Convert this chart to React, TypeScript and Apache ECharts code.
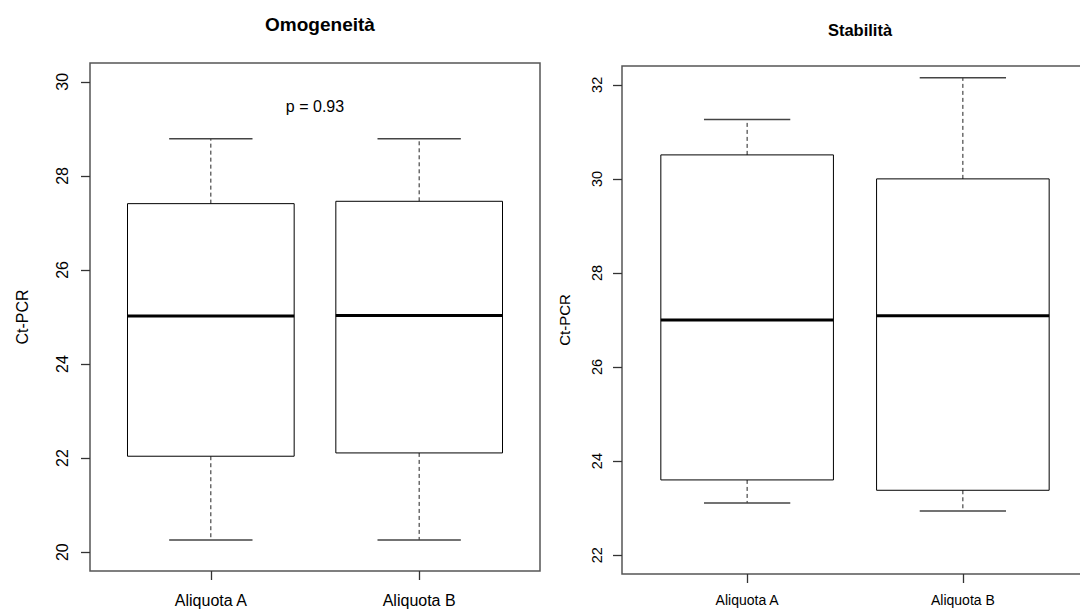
import React, { useEffect, useRef } from "react";
import * as echarts from "echarts";

const categories = ["Aliquota A", "Aliquota B"];
const positions = [1, 2];

// Omogeneità panel: five-number summaries
const omoLower = [20.26, 20.26];
const omoQ1 = [22.04, 22.11];
const omoMedian = [25.02, 25.03];
const omoQ3 = [27.41, 27.46];
const omoUpper = [28.79, 28.79];
const omoTicks = [20, 22, 24, 26, 28, 30];

// Stabilità panel
const staLower = [23.11, 22.94];
const staQ1 = [23.6, 23.38];
const staMedian = [27.0, 27.09];
const staQ3 = [30.51, 30.0];
const staUpper = [31.26, 32.15];
const staTicks = [22, 24, 26, 28, 30, 32];

const pLabel = "p = 0.93";

const FONT = "'Liberation Sans', Arial, sans-serif";

function buildRows(lo: number[], q1: number[], med: number[], q3: number[], hi: number[]) {
  return positions.map((p, i) => [p, lo[i], q1[i], med[i], q3[i], hi[i]]);
}

function renderBox(params: any, api: any) {
  const x = api.value(0);
  const lo = api.value(1);
  const q1 = api.value(2);
  const med = api.value(3);
  const q3 = api.value(4);
  const hi = api.value(5);
  const pLo = api.coord([x, lo]);
  const pQ1 = api.coord([x, q1]);
  const pMed = api.coord([x, med]);
  const pQ3 = api.coord([x, q3]);
  const pHi = api.coord([x, hi]);
  const boxW = api.size([0.8, 0])[0];
  const capW = api.size([0.4, 0])[0];
  const cx = pMed[0];
  const dash = { stroke: "#222", lineWidth: 1, lineDash: [4, 3], fill: null };
  const cap = { stroke: "#444", lineWidth: 1.5 };
  return {
    type: "group",
    children: [
      { type: "line", shape: { x1: cx, y1: pQ3[1], x2: cx, y2: pHi[1] }, style: dash },
      { type: "line", shape: { x1: cx, y1: pQ1[1], x2: cx, y2: pLo[1] }, style: dash },
      { type: "line", shape: { x1: cx - capW / 2, y1: pHi[1], x2: cx + capW / 2, y2: pHi[1] }, style: cap },
      { type: "line", shape: { x1: cx - capW / 2, y1: pLo[1], x2: cx + capW / 2, y2: pLo[1] }, style: cap },
      {
        type: "rect",
        shape: { x: cx - boxW / 2, y: pQ3[1], width: boxW, height: pQ1[1] - pQ3[1] },
        style: { fill: "#fff", stroke: "#000", lineWidth: 1 },
      },
      {
        type: "line",
        shape: { x1: cx - boxW / 2, y1: pMed[1], x2: cx + boxW / 2, y2: pMed[1] },
        style: { stroke: "#000", lineWidth: 3 },
      },
    ],
  };
}

function xAxisCfg(gridIndex: number, fontSize: number, margin: number) {
  return {
    type: "value",
    gridIndex,
    min: 0.42,
    max: 2.58,
    axisLine: { show: false },
    splitLine: { show: false },
    axisTick: { show: true, customValues: positions, length: 9, lineStyle: { color: "#333", width: 1.3 } },
    axisLabel: {
      show: true,
      customValues: positions,
      margin,
      fontSize,
      fontFamily: FONT,
      color: "#000",
      formatter: (v: number) => categories[positions.indexOf(Math.round(v))] ?? "",
    },
  };
}

function yAxisCfg(gridIndex: number, min: number, max: number, ticks: number[], fontSize: number, margin: number, nameGap: number, nameSize: number) {
  return {
    type: "value",
    gridIndex,
    min,
    max,
    name: "Ct-PCR",
    nameLocation: "middle",
    nameGap,
    nameTextStyle: { fontSize: nameSize, fontFamily: FONT, color: "#000" },
    axisLine: { show: false },
    splitLine: { show: false },
    axisTick: { show: true, customValues: ticks, length: 9, lineStyle: { color: "#333", width: 1.3 } },
    axisLabel: {
      show: true,
      customValues: ticks,
      rotate: 90,
      margin,
      fontSize,
      fontFamily: FONT,
      color: "#000",
    },
  };
}

export default function App() {
  const ref = useRef<HTMLDivElement>(null);
  useEffect(() => {
    if (!ref.current) return;
    const chart = echarts.init(ref.current, undefined, { renderer: "svg" });
    chart.setOption({
      animation: false,
      backgroundColor: "#fff",
      title: [
        {
          text: "Omogeneità",
          left: 315,
          top: 10,
          textAlign: "center",
          textStyle: { fontSize: 19, fontWeight: "bold", fontFamily: FONT, color: "#000" },
        },
        {
          text: "Stabilità",
          left: 855,
          top: 16,
          textAlign: "center",
          textStyle: { fontSize: 16.5, fontWeight: "bold", fontFamily: FONT, color: "#000" },
        },
      ],
      grid: [
        { left: 90, top: 63, width: 450, height: 508, show: true, borderColor: "#555", borderWidth: 1.5, backgroundColor: "transparent", outerBoundsMode: "none", containLabel: false },
        { left: 622, top: 66, width: 466, height: 508, show: true, borderColor: "#555", borderWidth: 1.5, backgroundColor: "transparent", outerBoundsMode: "none", containLabel: false },
      ],
      xAxis: [xAxisCfg(0, 16, 21), xAxisCfg(1, 14, 19)],
      yAxis: [
        yAxisCfg(0, 19.6, 30.4, omoTicks, 16, 20, 60, 16),
        yAxisCfg(1, 21.6, 32.4, staTicks, 14.5, 18, 50, 15),
      ],
      graphic: [
        {
          type: "text",
          x: 315,
          y: 106,
          style: { text: pLabel, fontSize: 16, fontFamily: FONT, fill: "#000", textAlign: "center", textVerticalAlign: "middle" },
        },
      ],
      series: [
        {
          type: "custom",
          xAxisIndex: 0,
          yAxisIndex: 0,
          renderItem: renderBox,
          data: buildRows(omoLower, omoQ1, omoMedian, omoQ3, omoUpper),
          encode: { x: 0, y: [1, 2, 3, 4, 5] },
        },
        {
          type: "custom",
          xAxisIndex: 1,
          yAxisIndex: 1,
          renderItem: renderBox,
          data: buildRows(staLower, staQ1, staMedian, staQ3, staUpper),
          encode: { x: 0, y: [1, 2, 3, 4, 5] },
        },
      ],
    });
    return () => chart.dispose();
  }, []);
  return <div ref={ref} style={{ width: 1080, height: 609, position: "absolute", left: 0, top: 0 }} />;
}
